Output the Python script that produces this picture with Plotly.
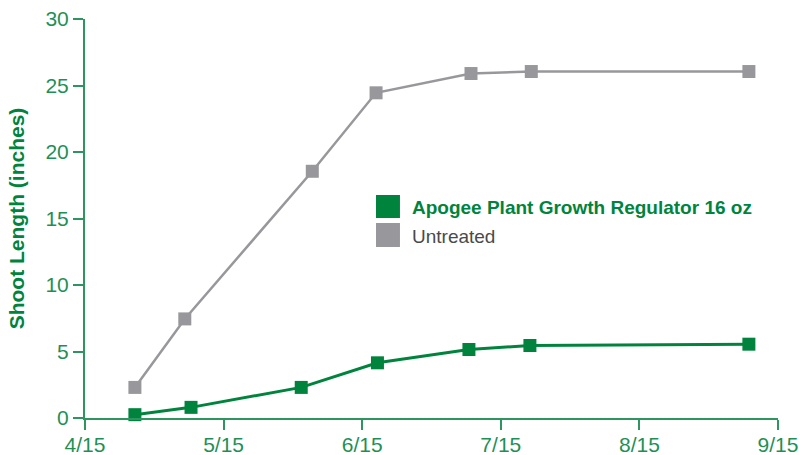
import plotly.graph_objects as go

# x positions in months after 4/15
tick_vals = [0, 1, 2, 3, 4, 5]
tick_labels = ["4/15", "5/15", "6/15", "7/15", "8/15", "9/15"]

apogee_x = [0.36, 0.765, 1.56, 2.11, 2.77, 3.21, 4.79]
apogee_y = [0.25, 0.8, 2.3, 4.15, 5.15, 5.45, 5.55]

untreated_x = [0.36, 0.72, 1.64, 2.10, 2.785, 3.22, 4.79]
untreated_y = [2.3, 7.45, 18.55, 24.45, 25.9, 26.05, 26.05]

series_names = ["Apogee Plant Growth Regulator 16 oz", "Untreated"]

GREEN = "#00843D"
GRAY = "#98989C"
AXIS = "#2E9460"
TICKTXT = "#1E9056"

fig = go.Figure()
fig.add_trace(go.Scatter(x=untreated_x, y=untreated_y, mode="lines+markers",
                         name=series_names[1],
                         line=dict(color=GRAY, width=2.5),
                         marker=dict(symbol="square", size=13, color=GRAY),
                         showlegend=False, cliponaxis=False))
fig.add_trace(go.Scatter(x=apogee_x, y=apogee_y, mode="lines+markers",
                         name=series_names[0],
                         line=dict(color=GREEN, width=3),
                         marker=dict(symbol="square", size=13, color=GREEN),
                         showlegend=False, cliponaxis=False))

# legend drawn as swatches + labels (paper coordinates)
legend_items = [
    (series_names[0], GREEN, "<b>%s</b>", GREEN, 0.5013, 0.5589, 0.5288),
    (series_names[1], GRAY, "%s", "#4a4a4a", 0.4286, 0.4887, 0.4561),
]
for name, col, fmt, tcol, y0, y1, yc in legend_items:
    fig.add_shape(type="rect", xref="paper", yref="paper",
                  x0=0.4199, x1=0.4545, y0=y0, y1=y1,
                  fillcolor=col, line=dict(width=0))
    fig.add_annotation(xref="paper", yref="paper", x=0.4690, y=yc,
                       xanchor="left", yanchor="middle", showarrow=False,
                       text=fmt % name, font=dict(size=19, color=tcol))

fig.update_layout(
    width=807, height=455,
    margin=dict(l=85, r=29, t=19, b=37),
    paper_bgcolor="white", plot_bgcolor="white",
    font=dict(family="Liberation Sans, Arial, sans-serif", color=TICKTXT),
    showlegend=False,
)
fig.update_xaxes(range=[0, 5], tickmode="array", tickvals=tick_vals, ticktext=tick_labels,
                 showgrid=False, zeroline=False, showline=True, linecolor=AXIS, linewidth=2,
                 ticks="outside", ticklen=10, tickwidth=2, tickcolor=AXIS,
                 tickfont=dict(size=21, color=TICKTXT), automargin=False,
                 ticklabeloverflow="allow", ticklabelstandoff=-3)
fig.update_yaxes(range=[0, 30], tickvals=[0, 5, 10, 15, 20, 25, 30],
                 showgrid=False, zeroline=False, showline=True, linecolor=AXIS, linewidth=2,
                 ticks="outside", ticklen=10, tickwidth=2, tickcolor=AXIS,
                 tickfont=dict(size=21, color=TICKTXT), automargin=False,
                 ticklabeloverflow="allow",
                 title=dict(text="<b>Shoot Length (inches)</b>",
                            font=dict(size=21, color=GREEN)))

fig.write_html("out.html", config={"displayModeBar": False},
               post_script="document.body.style.margin='0';")
